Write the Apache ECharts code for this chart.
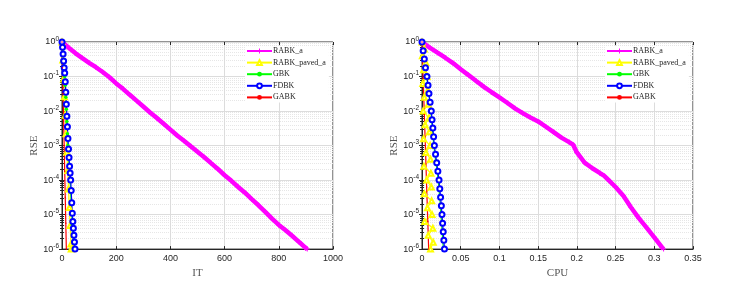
<!DOCTYPE html>
<html><head><meta charset="utf-8">
<script src="https://cdn.jsdelivr.net/npm/echarts@6/dist/echarts.min.js"></script>
<style>html,body{margin:0;padding:0;background:#fff}#c{width:743px;height:284px}</style>
</head><body><div id="c"></div>
<script>
// ---------- data ----------
const seriesNames = ['RABK_a', 'RABK_paved_a', 'GBK', 'FDBK', 'GABK'];
const itTicks = [0, 200, 400, 600, 800, 1000];
const cpuTicks = [0, 0.05, 0.1, 0.15, 0.2, 0.25, 0.3, 0.35];
const rseTicks = [1e-6, 1e-5, 1e-4, 1e-3, 1e-2, 1e-1, 1];

// Left panel: RSE vs iterations (IT)
const it_RABKa_x = [0,25,50,75,100,125,150,175,200,225,250,275,300,325,350,375,400,425,450,475,500,525,550,575,600,625,650,675,700,725,750,775,800,825,850,875,900,905];
const it_RABKa_y = [1,0.68,0.47,0.34,0.25,0.186,0.135,0.095,0.063,0.044,0.0295,0.02,0.0135,0.0091,0.0063,0.0043,0.0029,0.00195,0.00138,9.5e-4,6.6e-4,4.6e-4,3.1e-4,2.1e-4,1.38e-4,9.5e-5,6.3e-5,4.3e-5,2.8e-5,1.86e-5,1.2e-5,7.6e-6,5.0e-6,3.5e-6,2.4e-6,1.6e-6,1.07e-6,1e-6];
const it_RABKpaved_x = [0,3,6,9,12,15,18,21,24,27,30,33,34];
const it_RABKpaved_y = [1,0.3,0.085,0.026,7.5e-3,2.2e-3,6.5e-4,1.9e-4,5.5e-5,1.6e-5,4.8e-6,1.4e-6,1e-6];
const it_GBK_x = [0,2,4,6,8,10,12,14,16,18,20,22,24,26,28,30,32,34,36,38,40,42,44];
const it_GBK_y = [1,0.63,0.4,0.25,0.158,0.1,0.056,0.025,0.0112,0.005,0.0022,1e-3,5e-4,2.8e-4,1.58e-4,8.9e-5,4.5e-5,2e-5,1e-5,5e-6,2.8e-6,1.6e-6,1e-6];
const it_FDBK_x = [0,2,4,6,8,10,12,14,16,18,20,22,24,26,28,30,32,34,36,38,40,42,44,46,48];
const it_FDBK_y = [1,0.71,0.45,0.28,0.18,0.126,0.071,0.035,0.0158,0.0071,0.0035,0.0016,7.9e-4,4.5e-4,2.5e-4,1.6e-4,1e-4,5e-5,2.2e-5,1.1e-5,6.3e-6,4e-6,2.5e-6,1.6e-6,1e-6];
const it_GABK_x = [0,2,4,6,8,10,12,14,16];
const it_GABK_y = [1,0.18,0.032,5.6e-3,1e-3,1.8e-4,3.2e-5,5.6e-6,1e-6];

// Right panel: RSE vs CPU time
const cpu_RABKa_x = [0,0.01,0.02,0.03,0.04,0.05,0.06,0.07,0.08,0.09,0.10,0.11,0.12,0.13,0.14,0.15,0.16,0.17,0.18,0.19,0.195,0.20,0.21,0.22,0.23,0.235,0.24,0.25,0.26,0.27,0.28,0.29,0.30,0.31,0.312];
const cpu_RABKa_y = [1,0.69,0.49,0.35,0.245,0.162,0.11,0.074,0.05,0.035,0.025,0.0174,0.012,0.0087,0.0065,0.005,0.0035,0.00245,0.0017,0.00126,0.00107,6.3e-4,3.2e-4,2.2e-4,1.58e-4,1.35e-4,1.05e-4,6.3e-5,3.5e-5,1.6e-5,7.9e-6,4.2e-6,2.2e-6,1.12e-6,1e-6];
const cpu_RABKpaved_x = [0,0.003,0.0005,0.005,0.002,0.0065,0.001,0.0075,0.003,0.008,0.0015,0.009,0.004,0.0095,0.002,0.0105,0.005,0.011,0.0025,0.0115,0.006,0.012,0.003,0.0125,0.007,0.013,0.0035,0.014,0.008,0.0145,0.011];
const cpu_RABKpaved_y = [1,0.63,0.4,0.25,0.158,0.1,0.063,0.04,0.025,0.0158,0.01,0.0063,0.004,0.0025,0.00158,1e-3,6.3e-4,4e-4,2.5e-4,1.58e-4,1e-4,6.3e-5,4e-5,2.5e-5,1.58e-5,1e-5,6.3e-6,4e-6,2.5e-6,1.58e-6,1e-6];
const cpu_GBK_x = [0,0.0014,0.0028,0.0043,0.006,0.0074,0.0086,0.01,0.0114,0.0124,0.0133,0.0143,0.0152,0.0166,0.018,0.0195,0.0209,0.0219,0.0228,0.0238,0.0245,0.0253,0.026,0.0268,0.0276];
const cpu_GBK_y = [1,0.56,0.32,0.18,0.1,0.056,0.032,0.018,0.01,0.0056,0.0032,0.0018,1e-3,5.6e-4,3.2e-4,1.8e-4,1e-4,5.6e-5,3.2e-5,1.8e-5,1e-5,5.6e-6,3.2e-6,1.8e-6,1e-6];
const cpu_FDBK_x = [0,0.0015,0.003,0.0045,0.0064,0.0078,0.009,0.0105,0.012,0.013,0.014,0.015,0.016,0.0175,0.019,0.0205,0.022,0.023,0.024,0.025,0.0258,0.0266,0.0274,0.0282,0.029];
const cpu_FDBK_y = [1,0.56,0.32,0.18,0.1,0.056,0.032,0.018,0.01,0.0056,0.0032,0.0018,1e-3,5.6e-4,3.2e-4,1.8e-4,1e-4,5.6e-5,3.2e-5,1.8e-5,1e-5,5.6e-6,3.2e-6,1.8e-6,1e-6];
const cpu_GABK_x = [0,0.0015,0.003,0.0045,0.006,0.0075,0.0086];
const cpu_GABK_y = [1,0.089,0.0079,7.9e-4,6.3e-5,6.3e-6,1e-6];

// ---------- build ----------
const zip = (xs, ys) => xs.map((x, i) => [x, ys[i]]);
const SERIF = '"Liberation Serif", "DejaVu Serif", serif';
const SANS = '"Liberation Sans", Arial, sans-serif';
const PLUS = 'path://M4,0h2v4h4v2h-4v4h-2v-4h-4v-2h4z';

const styles = {
  'RABK_a':       {color: '#ff00ff', width: 4.5, symbol: PLUS, size: 5, bw: 0},
  'RABK_paved_a': {color: '#ffff00', width: 1.2, symbol: 'emptyTriangle', size: 5, bw: 1},
  'GBK':          {color: '#00ff00', width: 1.2, symbol: 'circle', size: 3.5, bw: 0},
  'FDBK':         {color: '#0000ff', width: 1.2, symbol: 'emptyCircle', size: 5, bw: 1.2},
  'GABK':         {color: '#ff0000', width: 1.2, symbol: 'circle', size: 1.5, bw: 0}
};

function mkSeries(name, xi, xs, ys) {
  const s = styles[name];
  return {
    name, type: 'line', xAxisIndex: xi, yAxisIndex: xi,
    data: zip(xs, ys), symbol: s.symbol, symbolSize: s.size, showSymbol: true,
    lineStyle: {color: s.color, width: s.width},
    itemStyle: {color: s.color, borderColor: s.color, borderWidth: s.bw},
    animation: false, silent: true
  };
}

const grids = [
  {left: 62, top: 42, width: 271, height: 212},
  {left: 422, top: 42, width: 271, height: 212}
].map(g => Object.assign(g, {show: true, borderColor: '#262626', borderWidth: 1, backgroundColor: '#fff'}));

function xMain(gi, ticks, name) {
  return {
    type: 'value', gridIndex: gi, min: ticks[0], max: ticks[ticks.length - 1],
    interval: ticks[1] - ticks[0], position: 'bottom',
    name, nameLocation: 'middle', nameGap: 13,
    nameTextStyle: {fontFamily: SERIF, fontSize: 11, color: '#555'},
    axisLine: {show: true, onZero: false, lineStyle: {color: '#262626', width: 1}},
    axisTick: {show: true, inside: true, length: 3, lineStyle: {color: '#262626'}},
    axisLabel: {fontFamily: SANS, fontSize: 9, color: '#262626', margin: 5,
      formatter: v => String(+v.toFixed(4))},
    splitLine: {show: true, lineStyle: {color: '#dcdcdc', width: 1}}
  };
}
function xMirror(gi, ticks) {
  return {
    type: 'value', gridIndex: gi, min: ticks[0], max: ticks[ticks.length - 1],
    interval: ticks[1] - ticks[0], position: 'top',
    axisLine: {show: false}, axisLabel: {show: false}, splitLine: {show: false},
    axisTick: {show: true, inside: true, length: 3, lineStyle: {color: '#262626'}}
  };
}
function yAxisDef(gi, mirror) {
  const base = {
    type: 'log', logBase: 10, gridIndex: gi, min: rseTicks[0], max: rseTicks[rseTicks.length - 1],
    interval: 1, position: mirror ? 'right' : 'left',
    axisTick: {show: true, inside: true, length: 3, lineStyle: {color: '#262626'}},
    minorTick: {show: true, splitNumber: 9, length: 2, lineStyle: {color: '#262626'}}
  };
  if (mirror) {
    return Object.assign(base, {axisLine: {show: false}, axisLabel: {show: false},
      splitLine: {show: false}, minorSplitLine: {show: false}});
  }
  return Object.assign(base, {
    name: 'RSE', nameLocation: 'middle', nameGap: 21,
    nameTextStyle: {fontFamily: SERIF, fontSize: 11, color: '#555'},
    axisLine: {show: true, onZero: false, lineStyle: {color: '#262626', width: 1}},
    axisLabel: {
      margin: 3, color: '#262626',
      formatter: v => '{b|10}{s|' + Math.round(Math.log10(v)) + '}',
      rich: {
        b: {fontFamily: SANS, fontSize: 9, color: '#262626'},
        s: {fontFamily: SANS, fontSize: 6.5, color: '#262626', padding: [0, 0, 6, 0]}
      }
    },
    splitLine: {show: true, lineStyle: {color: '#dcdcdc', width: 1}},
    minorSplitLine: {show: true, lineStyle: {color: '#e6e6e6', width: 1, type: [1, 1]}}
  });
}

function legendDef(gi, left) {
  return {
    data: seriesNames, orient: 'vertical', left, top: 46,
    itemWidth: 25, itemHeight: 6, itemGap: 3.6, padding: [1, 3, 1, 1],
    backgroundColor: '#fff', selectedMode: false,
    textStyle: {fontFamily: SERIF, fontSize: 8, color: '#262626', padding: [0, 0, 0, -4]}
  };
}

const option = {
  animation: false,
  backgroundColor: '#fff',
  grid: grids,
  legend: [legendDef(0, 245), legendDef(1, 605)],
  xAxis: [xMain(0, itTicks, 'IT'), xMain(1, cpuTicks, 'CPU'), xMirror(0, itTicks), xMirror(1, cpuTicks)],
  yAxis: [yAxisDef(0, false), yAxisDef(1, false), yAxisDef(0, true), yAxisDef(1, true)],
  series: [
    mkSeries('RABK_a', 0, it_RABKa_x, it_RABKa_y),
    mkSeries('RABK_paved_a', 0, it_RABKpaved_x, it_RABKpaved_y),
    mkSeries('GBK', 0, it_GBK_x, it_GBK_y),
    mkSeries('FDBK', 0, it_FDBK_x, it_FDBK_y),
    mkSeries('GABK', 0, it_GABK_x, it_GABK_y),
    mkSeries('RABK_a', 1, cpu_RABKa_x, cpu_RABKa_y),
    mkSeries('RABK_paved_a', 1, cpu_RABKpaved_x, cpu_RABKpaved_y),
    mkSeries('GBK', 1, cpu_GBK_x, cpu_GBK_y),
    mkSeries('FDBK', 1, cpu_FDBK_x, cpu_FDBK_y),
    mkSeries('GABK', 1, cpu_GABK_x, cpu_GABK_y)
  ]
};
const chart = echarts.init(document.getElementById('c'), null, {renderer: 'canvas'});
chart.setOption(option);
</script></body></html>
